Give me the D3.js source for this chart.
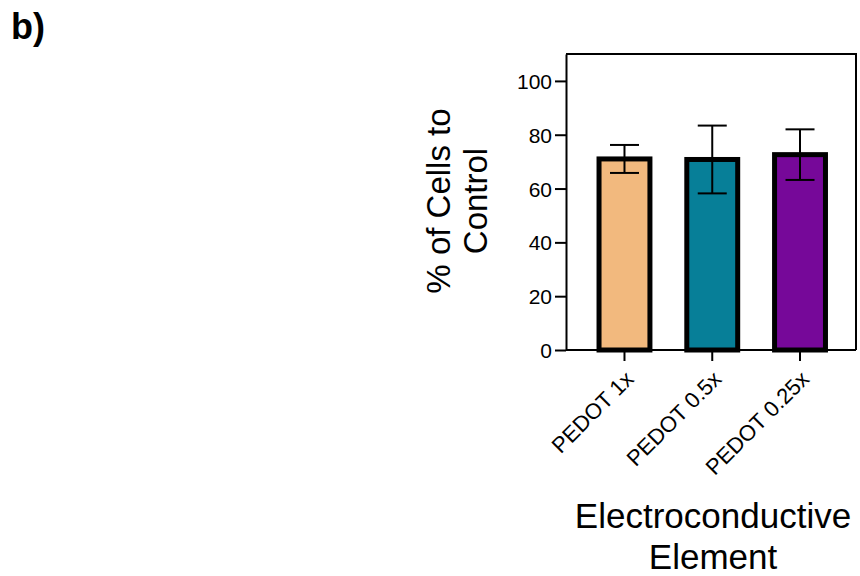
<!DOCTYPE html>
<html>
<head>
<meta charset="utf-8">
<script src="https://cdn.jsdelivr.net/npm/d3@7"></script>
<style>
  body { margin: 0; background: #fff; }
  text { font-family: Arial, "Liberation Sans", sans-serif; fill: #000; }
</style>
</head>
<body>
<div id="chart"></div>
<script>
// Data
var categories = ["PEDOT 1x", "PEDOT 0.5x", "PEDOT 0.25x"];
var means = [71.0, 70.8, 72.6];
var errors = [5.2, 12.6, 9.4];
var barColors = ["#f2b97e", "#077f98", "#760899"];
var yTicks = [0, 20, 40, 60, 80, 100];

var width = 860, height = 576;

var svg = d3.select("#chart").append("svg")
    .attr("width", width)
    .attr("height", height);

// panel letter
svg.append("text")
    .attr("x", 11)
    .attr("y", 39)
    .style("font-size", "36px")
    .style("font-weight", "bold")
    .text("b)");

var x = d3.scaleBand()
    .domain(categories)
    .range([580.6, 843.9])
    .paddingInner(0.42)
    .paddingOuter(0.21);

var y = d3.scaleLinear()
    .domain([0, 110])
    .range([350, 54]);

var left = 566, right = 856;

// bars
svg.selectAll(".bar")
    .data(categories)
    .enter().append("rect")
    .attr("class", "bar")
    .attr("x", function (d) { return x(d); })
    .attr("width", x.bandwidth())
    .attr("y", function (d, i) { return y(means[i]); })
    .attr("height", function (d, i) { return y(0) - y(means[i]); })
    .style("fill", function (d, i) { return barColors[i]; })
    .style("stroke", "#000")
    .style("stroke-width", 5);

// error bars
var err = svg.selectAll(".err")
    .data(categories)
    .enter().append("g")
    .attr("class", "err")
    .style("stroke", "#000")
    .style("stroke-width", 2);

err.append("line")
    .attr("x1", function (d) { return x(d) + x.bandwidth() / 2; })
    .attr("x2", function (d) { return x(d) + x.bandwidth() / 2; })
    .attr("y1", function (d, i) { return y(means[i] + errors[i]); })
    .attr("y2", function (d, i) { return y(means[i] - errors[i]); });

[1, -1].forEach(function (s) {
    err.append("line")
        .attr("x1", function (d) { return x(d) + x.bandwidth() / 2 - 14.5; })
        .attr("x2", function (d) { return x(d) + x.bandwidth() / 2 + 14.5; })
        .attr("y1", function (d, i) { return y(means[i] + s * errors[i]); })
        .attr("y2", function (d, i) { return y(means[i] + s * errors[i]); });
});

// frame (top and right)
svg.append("path")
    .attr("d", "M" + left + "," + y(110) + "H" + right + "V" + y(0))
    .style("fill", "none")
    .style("stroke", "#000")
    .style("stroke-width", 2);

// y axis
var yAxis = svg.append("g")
    .attr("transform", "translate(" + left + ",0)")
    .call(d3.axisLeft(y).tickValues(yTicks).tickSize(11).tickPadding(3).tickSizeOuter(0));
yAxis.select(".domain").style("stroke-width", 2);
yAxis.selectAll(".tick line").style("stroke-width", 2);
yAxis.selectAll(".tick text")
    .style("font-size", "21px")
    .style("font-family", "Arial, 'Liberation Sans', sans-serif")
    .attr("dy", "0.36em");

// x axis
var xAxis = svg.append("g")
    .attr("transform", "translate(0," + y(0) + ")")
    .call(d3.axisBottom(x).tickSize(11).tickSizeOuter(0));
xAxis.select(".domain")
    .attr("d", "M" + left + ",0H" + right)
    .style("stroke-width", 2);
xAxis.selectAll(".tick line").style("stroke-width", 2);
xAxis.selectAll(".tick text")
    .style("font-size", "22px")
    .style("font-family", "Arial, 'Liberation Sans', sans-serif")
    .attr("text-anchor", "end")
    .attr("dy", "0.35em")
    .attr("transform", "translate(5,25) rotate(-45)")
    .attr("y", 0)
    .attr("x", 0);

// y axis title
var yTitle = svg.append("text")
    .attr("transform", "translate(450,201) rotate(-90)")
    .attr("text-anchor", "middle")
    .style("font-size", "33px");
yTitle.append("tspan").attr("x", 0).attr("y", 0).text("% of Cells to");
yTitle.append("tspan").attr("x", 0).attr("y", 37).text("Control");

// x axis title
var xTitle = svg.append("text")
    .attr("text-anchor", "middle")
    .style("font-size", "35px");
xTitle.append("tspan").attr("x", 713).attr("y", 528).text("Electroconductive");
xTitle.append("tspan").attr("x", 713).attr("y", 569).text("Element");
</script>
</body>
</html>
